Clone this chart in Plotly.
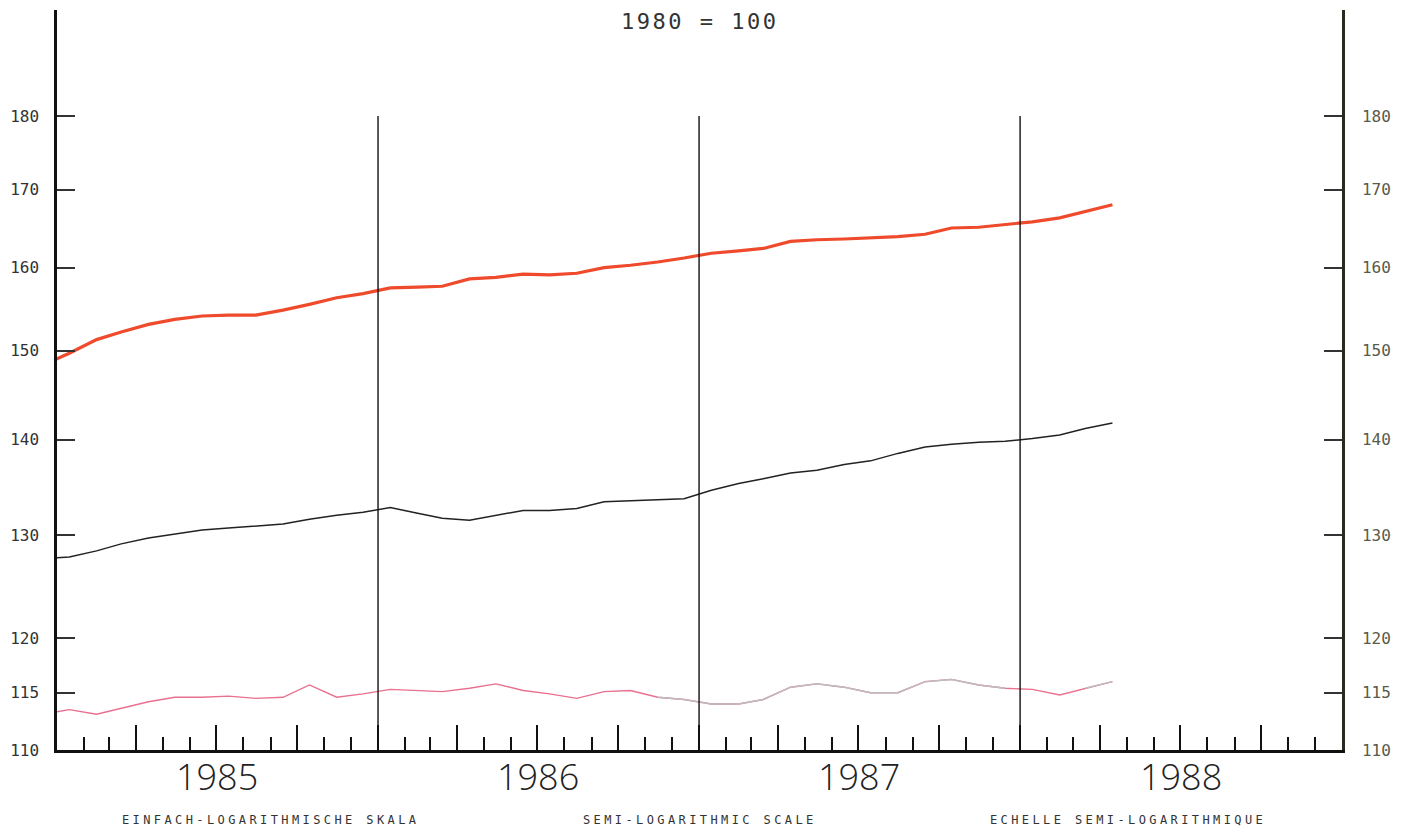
import pandas as pd
import plotly.graph_objects as go

# monthly index values, 1980 = 100 (Dec 1984 .. Apr 1988, plotted mid-month)
months = pd.date_range("1984-12-01", "1988-04-01", freq="MS") + pd.Timedelta(days=14)

red_series = [148.3,
              149.7, 151.3, 152.2, 153.1, 153.7, 154.1, 154.2, 154.2, 154.8, 155.5, 156.3, 156.8,
              157.5, 157.6, 157.7, 158.6, 158.8, 159.2, 159.1, 159.3, 160.0, 160.3, 160.7, 161.2,
              161.8, 162.1, 162.4, 163.3, 163.5, 163.6, 163.7, 163.9, 164.2, 165.0, 165.1, 165.4,
              165.8, 166.3, 167.1, 168.0]

black_series = [127.6,
                127.8, 128.4, 129.1, 129.7, 130.1, 130.5, 130.7, 130.9, 131.1, 131.6, 132.0, 132.3,
                132.8, 132.2, 131.7, 131.5, 132.0, 132.5, 132.5, 132.7, 133.4, 133.5, 133.6, 133.7,
                134.6, 135.3, 135.8, 136.4, 136.7, 137.3, 137.7, 138.5, 139.2, 139.5, 139.7, 139.8,
                140.1, 140.5, 141.2, 141.8]

pink_series = [113.1,
               113.5, 113.1, 113.6, 114.2, 114.6, 114.6, 114.7, 114.5, 114.6, 115.7, 114.6, 114.9,
               115.3, 115.2, 115.1, 115.4, 115.8, 115.2, 114.9, 114.5, 115.1, 115.2, 114.6, 114.4,
               114.0, 114.0, 114.4, 115.5, 115.8, 115.5, 115.0, 115.0, 116.0, 116.2, 115.7, 115.4,
               115.3, 114.8, 115.4, 116.0]

y_ticks = [110, 115, 120, 130, 140, 150, 160, 170, 180]
year_bounds = ["1986-01-01", "1987-01-01", "1988-01-01"]
year_labels = ["1985", "1986", "1987", "1988"]
year_mids = ["1985-07-02", "1986-07-02", "1987-07-02", "1988-07-02"]
scale_labels = ["EINFACH-LOGARITHMISCHE SKALA", "SEMI-LOGARITHMIC SCALE",
                "ECHELLE SEMI-LOGARITHMIQUE"]

# faded (grey) stretches of the lower line in the scan
grey_mask = [(pd.Timestamp("1986-11-01") <= m <= pd.Timestamp("1987-12-20")) or
             m >= pd.Timestamp("1988-03-01") for m in months]
pink_grey = [v if g else None for v, g in zip(pink_series, grey_mask)]

fig = go.Figure()
fig.add_trace(go.Scatter(x=months, y=red_series, mode="lines",
                         line=dict(color="#ef4a2c", width=3.2)))
fig.add_trace(go.Scatter(x=months, y=black_series, mode="lines",
                         line=dict(color="#222222", width=1.5)))
fig.add_trace(go.Scatter(x=months, y=pink_series, mode="lines",
                         line=dict(color="#e9708f", width=1.4)))
fig.add_trace(go.Scatter(x=months, y=pink_grey, mode="lines",
                         line=dict(color="#bdbdbd", width=1.5)))
# invisible trace to carry the right-hand axis
fig.add_trace(go.Scatter(x=months[:1], y=[y_ticks[0]], yaxis="y2", mode="lines",
                         line=dict(width=0), showlegend=False, hoverinfo="skip"))

for b in year_bounds:
    fig.add_shape(type="line", xref="x", yref="y", x0=b, x1=b,
                  y0=y_ticks[0], y1=y_ticks[-1], line=dict(color="#111111", width=1.4))

mono = "DejaVu Sans Mono"
yaxis_common = dict(type="log", range=[2.041393, 2.29103], tickvals=y_ticks,
                    ticktext=[str(t) for t in y_ticks], ticks="inside", ticklen=18,
                    tickwidth=1.5, tickcolor="#333333", showgrid=False, zeroline=False,
                    showline=True, linewidth=2.5, linecolor="#111111",
                    fixedrange=True)

# the page adds an 8px body margin, so the figure is shifted by 8px
fig.update_layout(
    width=1402, height=824,
    margin=dict(l=49, r=68, t=2, b=82, autoexpand=False),
    paper_bgcolor="white", plot_bgcolor="white",
    showlegend=False,
    xaxis=dict(type="date", range=["1985-01-01", "1989-01-01"],
               tick0="1985-01-01", dtick="M3", ticks="inside", ticklen=25,
               tickwidth=1.5, tickcolor="#111111", showticklabels=False,
               minor=dict(dtick="M1", ticks="inside", ticklen=13, tickwidth=1.5,
                          tickcolor="#111111", showgrid=False),
               showgrid=False, zeroline=False, showline=True, linewidth=3,
               linecolor="#111111"),
    yaxis=dict(side="left", ticklabelstandoff=12,
               tickfont=dict(family=mono, size=16, color="#333333"), **yaxis_common),
    yaxis2=dict(side="right", overlaying="y", ticklabelstandoff=14,
                tickfont=dict(family=mono, size=16, color="#5a5a48"), **yaxis_common),
)
fig.update_layout(yaxis2_linecolor="#2a2a20")

fig.add_annotation(text='<span style="letter-spacing:2.5px">1980 = 100</span>',
                   xref="paper", yref="paper", x=0.5, xanchor="center", y=1,
                   yanchor="top", yshift=3, showarrow=False,
                   font=dict(family=mono, size=22, color="#333333"))

for lab, xm in zip(year_labels, year_mids):
    fig.add_annotation(text=lab, xref="x", yref="paper", x=xm, xanchor="center",
                       y=0, yanchor="middle", yshift=-26, showarrow=False,
                       font=dict(family="Open Sans", size=36, weight=300, color="#222222"))

for lab, xp in zip(scale_labels, [1 / 6, 1 / 2, 5 / 6]):
    fig.add_annotation(text='<span style="letter-spacing:3.4px">' + lab + '</span>',
                       xref="paper", yref="paper", x=xp, xanchor="center",
                       y=0, yanchor="middle", yshift=-70, showarrow=False,
                       font=dict(family=mono, size=12, color="#333333"))

fig.write_html("out.html")
